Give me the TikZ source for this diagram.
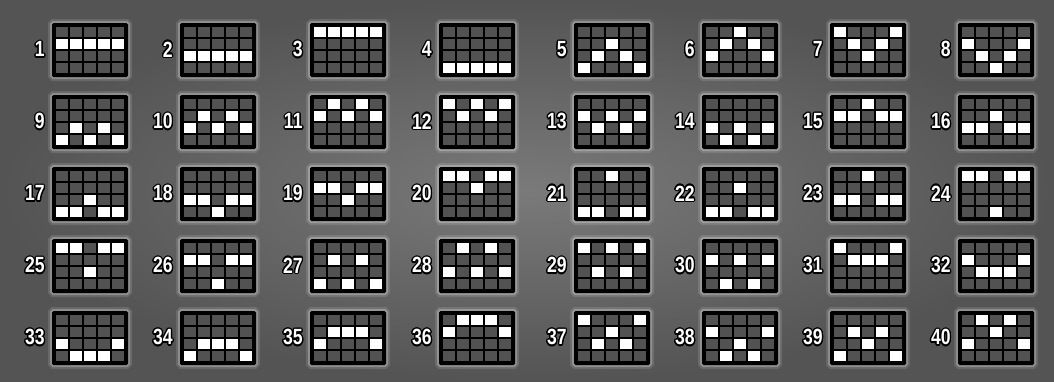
\documentclass[tikz,border=0pt]{standalone}
\usepackage{fontspec}
\usepackage{xcolor}
\usepackage{contour}
\newfontfamily\numfont[FakeStretch=0.8]{Liberation Sans}
\usetikzlibrary{positioning, calc}
\definecolor{stonein}{RGB}{122,122,122}
\definecolor{stoneout}{RGB}{84,84,84}
\definecolor{cellgray}{RGB}{82,82,82}
\contourlength{1.3pt}
\tikzset{
  plbox/.style={fill=black, minimum width=76pt, minimum height=54pt, inner sep=0pt,
    rounded corners=1.5pt,
    preaction={draw=white, draw opacity=0.12, line width=8pt},
    preaction={draw=white, draw opacity=0.25, line width=4pt}},
  plnum/.style={text=white, inner sep=0pt, font=\numfont\bfseries\fontsize{22}{22}\selectfont},
  cell/.style={fill=cellgray},
  lit/.style={fill=white}
}
% #1 x, #2 y (centre of the box), #3 line number, #4 lit row per reel
\newcommand{\pline}[4]{%
  \node[plbox] (b#3) at (#1,#2) {};
  \node[plnum, left=7pt of b#3] (n#3) {\contour{black}{#3}};
  \foreach \c in {0,...,4}
    \foreach \r in {0,...,3}
      \fill[cell] ([shift={(4+14*\c,4+12*\r)}]b#3.north west) rectangle ++(12,10);
  \foreach \r [count=\c from 0] in {#4}
    \fill[lit] ([shift={(4+14*\c,4+12*\r-12)}]b#3.north west) rectangle ++(12,10);}

\begin{document}
\begin{tikzpicture}[x=1pt, y=-1pt]
\fill[inner color=stonein, outer color=stoneout] (0,0) rectangle (1054,381);
\useasboundingbox (0,0) rectangle (1054,381);
% row 1
\pline{90}{50}{1}{2,2,2,2,2}
\pline{218}{50}{2}{3,3,3,3,3}
\pline{348}{50}{3}{1,1,1,1,1}
\pline{477}{50}{4}{4,4,4,4,4}
\pline{612}{50}{5}{4,3,2,3,4}
\pline{740}{50}{6}{3,2,1,2,3}
\pline{868}{50}{7}{1,2,3,2,1}
\pline{996}{50}{8}{2,3,4,3,2}
% row 2
\pline{90}{122}{9}{4,3,4,3,4}
\pline{218}{122}{10}{3,2,3,2,3}
\pline{348}{122}{11}{2,1,2,1,2}
\pline{477}{122}{12}{1,2,1,2,1}
\pline{612}{122}{13}{2,3,2,3,2}
\pline{740}{122}{14}{3,4,3,4,3}
\pline{868}{122}{15}{2,2,1,2,2}
\pline{996}{122}{16}{3,3,2,3,3}
% row 3
\pline{90}{194}{17}{4,4,3,4,4}
\pline{218}{194}{18}{3,3,4,3,3}
\pline{348}{194}{19}{2,2,3,2,2}
\pline{477}{194}{20}{1,1,2,1,1}
\pline{612}{194}{21}{4,4,1,4,4}
\pline{740}{194}{22}{4,4,2,4,4}
\pline{868}{194}{23}{3,3,1,3,3}
\pline{996}{194}{24}{1,1,4,1,1}
% row 4
\pline{90}{266}{25}{1,1,3,1,1}
\pline{218}{266}{26}{2,2,4,2,2}
\pline{348}{266}{27}{4,2,4,2,4}
\pline{477}{266}{28}{3,1,3,1,3}
\pline{612}{266}{29}{1,3,1,3,1}
\pline{740}{266}{30}{2,4,2,4,2}
\pline{868}{266}{31}{1,2,2,2,1}
\pline{996}{266}{32}{2,3,3,3,2}
% row 5
\pline{90}{338}{33}{3,4,4,4,3}
\pline{218}{338}{34}{4,3,3,3,4}
\pline{348}{338}{35}{3,2,2,2,3}
\pline{477}{338}{36}{2,1,1,1,2}
\pline{612}{338}{37}{1,3,2,3,1}
\pline{740}{338}{38}{2,4,3,4,2}
\pline{868}{338}{39}{4,2,3,2,4}
\pline{996}{338}{40}{3,1,2,1,3}
\end{tikzpicture}
\end{document}
